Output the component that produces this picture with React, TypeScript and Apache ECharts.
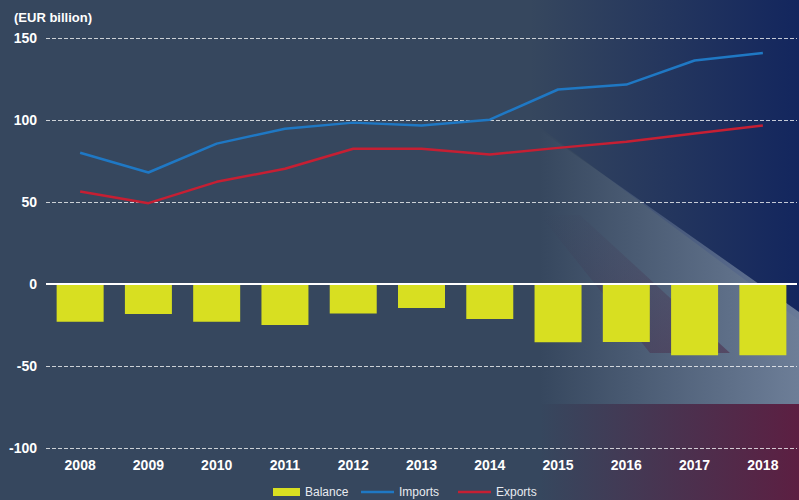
import React, { useEffect, useRef } from "react";
import * as echarts from "echarts";

const years = ["2008", "2009", "2010", "2011", "2012", "2013", "2014", "2015", "2016", "2017", "2018"];
const balance = [-23, -18.3, -23, -25, -18, -14.7, -21.4, -35.5, -35.3, -43.4, -43.4];
const imports = [80, 68, 85.6, 94.7, 98.4, 96.6, 100.2, 118.6, 121.6, 136.3, 140.8];
const exportsData = [56.4, 49.3, 62.3, 70.3, 82.5, 82.5, 78.9, 83, 86.8, 91.7, 96.6];
const yTicks = { min: -100, max: 150, interval: 50 };

const FONT = "'Liberation Sans', Arial, Helvetica, sans-serif";

export default function App() {
  const ref = useRef<HTMLDivElement>(null);
  useEffect(() => {
    if (!ref.current) return;
    const chart = echarts.init(ref.current, undefined, { renderer: "svg" });
    const hGrad = (c0: string, c1: string) =>
      new echarts.graphic.LinearGradient(0, 0, 1, 0, [
        { offset: 0, color: c0 },
        { offset: 1, color: c1 },
      ]);
    const legendText = { color: "#e8ebf0", fontSize: 12, fontFamily: FONT };
    chart.setOption({
      animation: false,
      backgroundColor: "#36475e",
      textStyle: { fontFamily: FONT },
      title: {
        text: "(EUR billion)",
        left: 14,
        top: 11,
        padding: 0,
        textStyle: { color: "#ffffff", fontSize: 13, fontWeight: "bold", fontFamily: FONT },
      },
      graphic: [
        {
          type: "polygon",
          z: -10,
          silent: true,
          shape: { points: [[530, 0], [799, 0], [799, 320], [530, 120]] },
          style: { fill: hGrad("rgba(19,38,94,0)", "rgba(19,38,94,1)") },
        },
        {
          type: "polygon",
          z: -9,
          silent: true,
          shape: { points: [[540, 130], [799, 312], [799, 404], [540, 404]] },
          style: { fill: hGrad("rgba(115,132,158,0)", "rgba(115,132,158,0.9)") },
        },
        {
          type: "polygon",
          z: -8,
          silent: true,
          shape: { points: [[540, 215], [580, 215], [730, 353], [650, 353]] },
          style: {
            fill: new echarts.graphic.LinearGradient(0, 0, 1, 1, [
              { offset: 0, color: "rgba(60,50,80,0)" },
              { offset: 1, color: "rgba(75,40,70,0.55)" },
            ]),
          },
        },
        {
          type: "rect",
          z: -9,
          silent: true,
          shape: { x: 540, y: 404, width: 259, height: 96 },
          style: { fill: hGrad("rgba(92,31,66,0)", "rgba(92,31,66,1)") },
        },
      ],
      grid: { left: 46, right: 2, top: 38, bottom: 52, containLabel: false },
      legend: [
        {
          data: [{ name: "Balance", icon: "rect" }],
          left: 273,
          top: 486,
          padding: 0,
          itemWidth: 27,
          itemHeight: 8,
          textStyle: legendText,
        },
        {
          data: [{ name: "Imports", icon: "rect" }],
          left: 361,
          top: 486,
          padding: 0,
          itemWidth: 33,
          itemHeight: 2.5,
          textStyle: legendText,
        },
        {
          data: [{ name: "Exports", icon: "rect" }],
          left: 458,
          top: 486,
          padding: 0,
          itemWidth: 33,
          itemHeight: 2.5,
          textStyle: legendText,
        },
      ],
      xAxis: {
        type: "category",
        data: years,
        boundaryGap: true,
        axisLine: { show: false },
        axisTick: { show: false },
        axisLabel: { color: "#ffffff", fontSize: 14, fontWeight: "bold", margin: 10, fontFamily: FONT },
      },
      yAxis: {
        type: "value",
        min: yTicks.min,
        max: yTicks.max,
        interval: yTicks.interval,
        axisLine: { show: false },
        axisTick: { show: false },
        axisLabel: { color: "#ffffff", fontSize: 14, fontWeight: "bold", margin: 9, fontFamily: FONT },
        splitLine: { show: true, lineStyle: { color: "rgba(255,255,255,0.75)", type: [4, 2], width: 1 } },
      },
      series: [
        {
          name: "Balance",
          type: "bar",
          data: balance,
          barWidth: 47,
          itemStyle: { color: "#d8df21" },
          z: 2,
          markLine: {
            silent: true,
            symbol: "none",
            label: { show: false },
            lineStyle: { color: "#ffffff", type: "solid", width: 2 },
            data: [{ yAxis: 0 }],
          },
        },
        {
          name: "Imports",
          type: "line",
          data: imports,
          symbol: "none",
          lineStyle: { color: "#1f78c4", width: 2.5 },
          itemStyle: { color: "#1f78c4" },
          z: 3,
        },
        {
          name: "Exports",
          type: "line",
          data: exportsData,
          symbol: "none",
          lineStyle: { color: "#c61f33", width: 2.5 },
          itemStyle: { color: "#c61f33" },
          z: 3,
        },
      ],
    });
    return () => chart.dispose();
  }, []);
  return <div ref={ref} style={{ width: 799, height: 500, position: "absolute", left: 0, top: 0 }} />;
}
